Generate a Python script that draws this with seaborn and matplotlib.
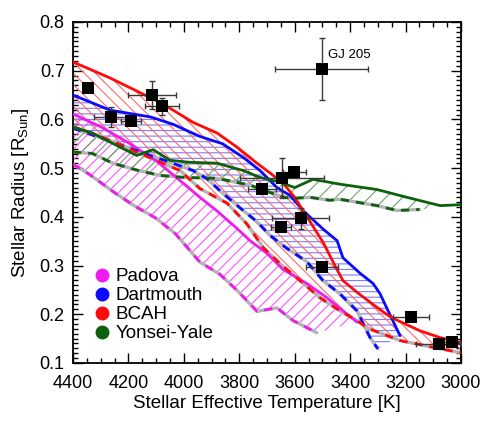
import numpy as np
import pandas as pd
import matplotlib
matplotlib.use('Agg')
import matplotlib.pyplot as plt
import seaborn as sns
from matplotlib.lines import Line2D
from matplotlib.ticker import MultipleLocator

# model isochrone bands: upper (solid) and lower (dashed) edge
padova_up_t = [4400, 4300, 4200, 4100, 4000, 3942, 3880, 3808, 3761, 3700, 3642, 3556, 3484, 3426, 3375]
padova_up_r = [0.611, 0.585, 0.552, 0.515, 0.468, 0.440, 0.412, 0.376, 0.351, 0.325, 0.292, 0.263, 0.234, 0.207, 0.184]
padova_lo_t = [4400, 4340, 4256, 4180, 4100, 4030, 3942, 3870, 3808, 3736, 3664, 3606, 3520]
padova_lo_r = [0.508, 0.487, 0.452, 0.423, 0.397, 0.365, 0.307, 0.282, 0.249, 0.206, 0.213, 0.187, 0.162]

dart_up_t = [4400, 4266, 4120, 4039, 3942, 3860, 3786, 3725, 3664, 3617, 3570, 3498, 3447, 3426, 3364, 3317, 3292, 3263, 3220]
dart_up_r = [0.650, 0.619, 0.605, 0.590, 0.565, 0.550, 0.522, 0.495, 0.460, 0.444, 0.413, 0.375, 0.351, 0.316, 0.284, 0.263, 0.242, 0.207, 0.156]
dart_lo_t = [4400, 4230, 4122, 4050, 3967, 3916, 3859, 3786, 3736, 3689, 3628, 3556, 3498, 3437, 3375, 3353, 3328, 3300]
dart_lo_r = [0.582, 0.548, 0.526, 0.512, 0.495, 0.478, 0.448, 0.413, 0.390, 0.362, 0.335, 0.308, 0.269, 0.242, 0.207, 0.181, 0.152, 0.129]

bcah_up_t = [4400, 4266, 4079, 3967, 3880, 3808, 3736, 3689, 3642, 3600, 3540, 3495, 3455, 3426, 3375, 3303, 3256, 3220, 3148, 3075, 3000]
bcah_up_r = [0.718, 0.685, 0.633, 0.594, 0.572, 0.543, 0.510, 0.490, 0.469, 0.440, 0.386, 0.345, 0.300, 0.269, 0.245, 0.214, 0.195, 0.185, 0.166, 0.152, 0.142]
bcah_lo_t = [4400, 4300, 4170, 4100, 4014, 3942, 3844, 3772, 3714, 3653, 3581, 3509, 3437, 3375, 3339, 3220, 3100, 3000]
bcah_lo_r = [0.585, 0.565, 0.533, 0.516, 0.495, 0.458, 0.428, 0.385, 0.337, 0.304, 0.269, 0.234, 0.207, 0.187, 0.172, 0.146, 0.132, 0.121]

yy_up_t = [4400, 4330, 4230, 4170, 4111, 4050, 3980, 3880, 3786, 3725, 3653, 3600, 3534, 3437, 3303, 3195, 3075, 3000]
yy_up_r = [0.584, 0.572, 0.543, 0.526, 0.538, 0.516, 0.512, 0.510, 0.495, 0.481, 0.471, 0.460, 0.477, 0.467, 0.456, 0.440, 0.423, 0.425]
yy_lo_t = [4400, 4330, 4256, 4170, 4086, 4003, 3880, 3761, 3689, 3640, 3606, 3545, 3473, 3437, 3303, 3231, 3150]
yy_lo_r = [0.533, 0.530, 0.510, 0.496, 0.485, 0.481, 0.479, 0.465, 0.450, 0.440, 0.438, 0.440, 0.434, 0.436, 0.423, 0.413, 0.415]

# measured stars
star_t = [4345, 4263, 4191, 4115, 4079, 3502, 3717, 3647, 3601, 3578, 3650, 3500, 3180, 3081, 3031]
star_r = [0.665, 0.605, 0.597, 0.650, 0.627, 0.703, 0.458, 0.480, 0.492, 0.397, 0.379, 0.298, 0.194, 0.139, 0.142]
star_terr = [15, 61, 35, 88, 61, 168, 50, 151, 43, 103, 36, 58, 64, 80, 60]
star_rerr = [0.004, 0.020, 0.008, 0.029, 0.017, 0.064, 0.006, 0.041, 0.010, 0.022, 0.006, 0.006, 0.006, 0.006, 0.010]

models = [
    ('Padova', padova_up_t, padova_up_r, padova_lo_t, padova_lo_r, '#ee1cee', '#ff55ff', '///'),
    ('Dartmouth', dart_up_t, dart_up_r, dart_lo_t, dart_lo_r, '#0a0aff', '#7d7dff', '---'),
    ('BCAH', bcah_up_t, bcah_up_r, bcah_lo_t, bcah_lo_r, '#ff0a0a', '#ff6a6a', '\\\\\\'),
    ('Yonsei-Yale', yy_up_t, yy_up_r, yy_lo_t, yy_lo_r, '#0d610d', '#6f9f6f', '//'),
]

sns.set_style('ticks')
plt.rcParams['font.family'] = ['Liberation Sans', 'DejaVu Sans']
plt.rcParams['mathtext.fontset'] = 'custom'
plt.rcParams['mathtext.rm'] = 'Liberation Sans'
plt.rcParams['hatch.linewidth'] = 0.8
for k in ['text.color', 'axes.labelcolor', 'xtick.color', 'ytick.color', 'axes.edgecolor']:
    plt.rcParams[k] = 'black'

fig = plt.figure(figsize=(4.85, 4.28), dpi=100)
ax = fig.add_axes([0.1505, 0.152, 0.8, 0.7966])

# hatched bands
for name, ut, ur, lt, lr, col, hcol, hatch in models:
    px = np.concatenate([ut, lt[::-1]])
    py = np.concatenate([ur, lr[::-1]])
    ax.fill(px, py, facecolor='none', edgecolor=hcol, hatch=hatch, lw=0, zorder=1)

# edges
for name, ut, ur, lt, lr, col, hcol, hatch in models:
    up = pd.DataFrame({'t': ut, 'r': ur})
    lo = pd.DataFrame({'t': lt, 'r': lr})
    sns.lineplot(data=lo, x='t', y='r', ax=ax, color='#b4b4b4', lw=2.4, sort=False, zorder=2)
    sns.lineplot(data=lo, x='t', y='r', ax=ax, color=col, lw=2.0, sort=False, zorder=3,
                 linestyle=(0, (3, 2.5)))
    sns.lineplot(data=up, x='t', y='r', ax=ax, color=col, lw=2.0, sort=False, zorder=3)

ax.errorbar(star_t, star_r, xerr=star_terr, yerr=star_rerr, fmt='none',
            ecolor='#3a3a3a', elinewidth=1.0, capsize=2.5, capthick=1.0, zorder=4)
sns.scatterplot(x=star_t, y=star_r, ax=ax, marker='s', s=80, color='black',
                edgecolor='black', linewidth=0, zorder=5)

ax.text(3480, 0.732, 'GJ 205', fontsize=9.5, ha='left', va='center')

ax.set_xlim(4400, 3000)
ax.set_ylim(0.1, 0.8)
ax.xaxis.set_major_locator(MultipleLocator(200))
ax.xaxis.set_minor_locator(MultipleLocator(50))
ax.yaxis.set_major_locator(MultipleLocator(0.1))
ax.yaxis.set_minor_locator(MultipleLocator(0.01))
ax.tick_params(which='both', direction='in', top=True, right=True, labelsize=13, width=1.0)
ax.tick_params(which='major', length=7)
ax.tick_params(which='minor', length=3.5)
ax.tick_params(axis='x', which='major', pad=9)
ax.tick_params(axis='y', which='major', pad=6)
for s in ax.spines.values():
    s.set_linewidth(1.3)
ax.set_xlabel('Stellar Effective Temperature [K]', fontsize=13.5, labelpad=2)
ax.set_ylabel('Stellar Radius [R$_{\\mathrm{Sun}}$]', fontsize=13.5, labelpad=6)

handles = [Line2D([], [], marker='o', ls='none', color=m[5], markersize=9) for m in models]
ax.legend(handles, [m[0] for m in models], loc='lower left', bbox_to_anchor=(0.055, 0.06),
          frameon=False, fontsize=13.5, handlelength=0.8, handletextpad=0.35,
          labelspacing=0.1, borderpad=0, borderaxespad=0)

fig.savefig('out.png', dpi=100)
